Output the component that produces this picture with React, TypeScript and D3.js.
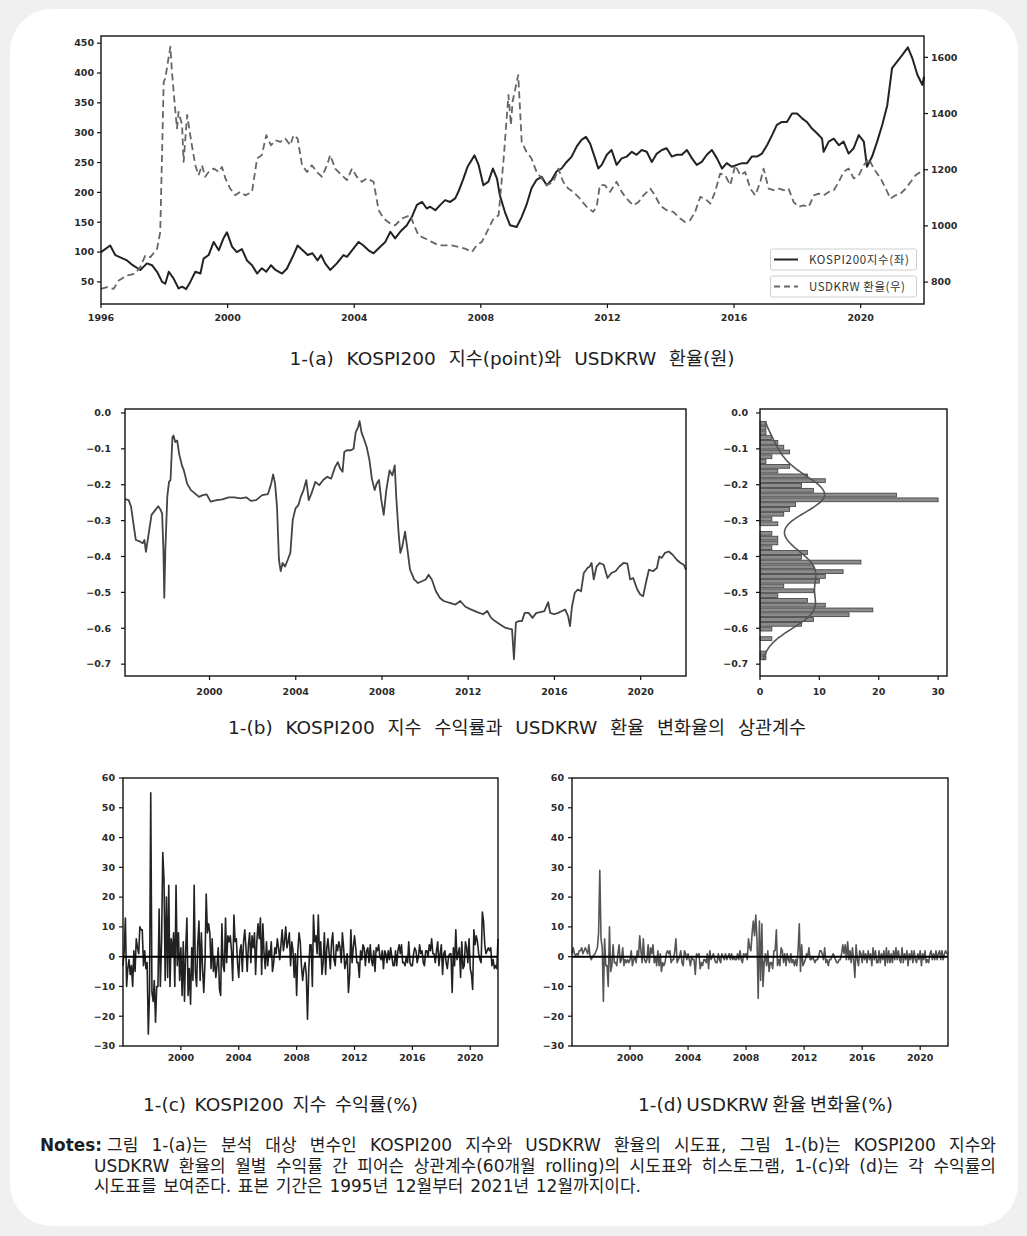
import React, { useLayoutEffect, useRef, useState } from 'react';
import * as d3 from 'd3';

// ---------------- 1-(a) data: [decimal year, value] ----------------
const kospiLevel: [number, number][] = [
  [1996.0, 100], [1996.29, 111], [1996.45, 95], [1996.82, 86], [1997.0, 78], [1997.24, 70], [1997.45, 81],
  [1997.61, 78], [1997.77, 67], [1997.93, 50], [1998.03, 47], [1998.14, 67], [1998.29, 56], [1998.45, 39],
  [1998.56, 42], [1998.69, 38], [1998.82, 50], [1998.98, 67], [1999.14, 64], [1999.24, 89], [1999.4, 95],
  [1999.56, 117], [1999.72, 103], [1999.87, 123], [1999.98, 133], [2000.14, 109], [2000.29, 100], [2000.45, 105],
  [2000.61, 86], [2000.77, 78], [2000.93, 64], [2001.08, 73], [2001.22, 67], [2001.37, 78], [2001.51, 70],
  [2001.72, 64], [2001.87, 72], [2002.08, 95], [2002.21, 111], [2002.37, 103], [2002.53, 95], [2002.68, 98],
  [2002.84, 86], [2002.95, 95], [2003.08, 81], [2003.24, 70], [2003.45, 81], [2003.66, 95], [2003.77, 92],
  [2003.98, 106], [2004.14, 117], [2004.29, 111], [2004.45, 103], [2004.61, 98], [2004.82, 109], [2004.98, 117],
  [2005.14, 134], [2005.29, 123], [2005.45, 134], [2005.66, 145], [2005.82, 159], [2005.98, 179], [2006.14, 184],
  [2006.29, 173], [2006.4, 176], [2006.56, 170], [2006.72, 179], [2006.87, 187], [2007.03, 184], [2007.19, 190],
  [2007.29, 201], [2007.45, 223], [2007.58, 243], [2007.8, 262], [2007.93, 246], [2008.08, 212], [2008.24, 218],
  [2008.38, 240], [2008.51, 223], [2008.6, 195], [2008.76, 167], [2008.92, 145], [2009.13, 142], [2009.29, 159],
  [2009.44, 179], [2009.6, 207], [2009.76, 221], [2009.92, 226], [2010.08, 212], [2010.24, 221], [2010.39, 235],
  [2010.55, 240], [2010.71, 251], [2010.87, 260], [2011.03, 277], [2011.18, 288], [2011.32, 293], [2011.45, 282],
  [2011.61, 257], [2011.71, 240], [2011.82, 246], [2011.98, 263], [2012.13, 271], [2012.29, 246], [2012.45, 257],
  [2012.61, 260], [2012.77, 268], [2012.92, 263], [2013.08, 271], [2013.24, 268], [2013.4, 251], [2013.56, 265],
  [2013.72, 271], [2013.87, 274], [2014.03, 260], [2014.19, 263], [2014.35, 263], [2014.51, 271], [2014.67, 257],
  [2014.82, 246], [2014.98, 251], [2015.14, 263], [2015.3, 271], [2015.46, 257], [2015.62, 240], [2015.77, 249],
  [2015.93, 243], [2016.09, 246], [2016.25, 249], [2016.41, 249], [2016.56, 260], [2016.72, 260], [2016.88, 265],
  [2017.04, 279], [2017.2, 296], [2017.35, 313], [2017.51, 318], [2017.67, 318], [2017.83, 332], [2017.99, 332],
  [2018.15, 324], [2018.3, 318], [2018.46, 307], [2018.62, 299], [2018.78, 290], [2018.83, 268], [2018.99, 285],
  [2019.15, 290], [2019.31, 279], [2019.46, 285], [2019.62, 265], [2019.78, 274], [2019.94, 296], [2020.1, 285],
  [2020.2, 243], [2020.36, 260], [2020.52, 285], [2020.68, 313], [2020.84, 346], [2020.99, 408], [2021.15, 419],
  [2021.31, 430], [2021.49, 443], [2021.63, 425], [2021.79, 397], [2021.95, 380], [2022.0, 394],
];

const usdkrwLevel: [number, number][] = [
  [1996.0, 776], [1996.19, 782], [1996.4, 776], [1996.56, 806], [1996.82, 824], [1997.08, 830], [1997.24, 854],
  [1997.4, 895], [1997.56, 889], [1997.77, 919], [1997.87, 978], [1997.98, 1513], [1998.03, 1525], [1998.19, 1638],
  [1998.24, 1549], [1998.35, 1406], [1998.4, 1347], [1998.45, 1406], [1998.56, 1359], [1998.61, 1228], [1998.72, 1395],
  [1998.77, 1359], [1998.87, 1287], [1998.98, 1216], [1999.08, 1180], [1999.19, 1216], [1999.29, 1175], [1999.4, 1192],
  [1999.56, 1204], [1999.72, 1192], [1999.82, 1210], [1999.93, 1169], [2000.08, 1133], [2000.24, 1109], [2000.4, 1121],
  [2000.56, 1109], [2000.77, 1121], [2000.93, 1240], [2001.08, 1252], [2001.22, 1323], [2001.37, 1287], [2001.51, 1305],
  [2001.66, 1299], [2001.82, 1311], [2001.98, 1287], [2002.08, 1323], [2002.21, 1311], [2002.35, 1216], [2002.51, 1192],
  [2002.66, 1216], [2002.82, 1192], [2002.98, 1175], [2003.14, 1216], [2003.24, 1252], [2003.4, 1204], [2003.61, 1180],
  [2003.77, 1163], [2003.93, 1204], [2004.08, 1175], [2004.24, 1157], [2004.4, 1169], [2004.61, 1157], [2004.77, 1056],
  [2004.93, 1026], [2005.14, 1008], [2005.29, 1002], [2005.5, 1026], [2005.77, 1038], [2005.87, 1008], [2006.03, 966],
  [2006.24, 955], [2006.45, 943], [2006.66, 931], [2006.87, 931], [2007.08, 931], [2007.29, 925], [2007.5, 919],
  [2007.72, 907], [2007.87, 931], [2008.03, 943], [2008.19, 978], [2008.4, 1026], [2008.56, 1038], [2008.72, 1240],
  [2008.87, 1466], [2008.95, 1359], [2009.0, 1442], [2009.18, 1537], [2009.29, 1299], [2009.44, 1264], [2009.6, 1240],
  [2009.76, 1192], [2009.92, 1169], [2010.08, 1145], [2010.29, 1157], [2010.45, 1204], [2010.6, 1157], [2010.76, 1133],
  [2010.92, 1121], [2011.13, 1097], [2011.34, 1068], [2011.55, 1050], [2011.66, 1068], [2011.76, 1145], [2011.92, 1145],
  [2012.08, 1121], [2012.29, 1157], [2012.45, 1121], [2012.61, 1097], [2012.82, 1073], [2012.98, 1085], [2013.14, 1109],
  [2013.35, 1133], [2013.5, 1109], [2013.66, 1073], [2013.87, 1056], [2014.08, 1050], [2014.3, 1026], [2014.45, 1014],
  [2014.61, 1020], [2014.77, 1050], [2014.93, 1103], [2015.09, 1097], [2015.25, 1079], [2015.4, 1121], [2015.56, 1186],
  [2015.72, 1180], [2015.88, 1145], [2016.04, 1216], [2016.2, 1180], [2016.35, 1192], [2016.51, 1133], [2016.67, 1109],
  [2016.83, 1157], [2016.93, 1204], [2017.09, 1133], [2017.25, 1127], [2017.41, 1133], [2017.57, 1127], [2017.72, 1133],
  [2017.88, 1085], [2018.04, 1068], [2018.2, 1073], [2018.36, 1068], [2018.52, 1109], [2018.67, 1115], [2018.83, 1109],
  [2018.99, 1121], [2019.15, 1127], [2019.31, 1157], [2019.46, 1192], [2019.62, 1204], [2019.78, 1169], [2019.94, 1180],
  [2020.1, 1216], [2020.26, 1240], [2020.41, 1204], [2020.63, 1169], [2020.79, 1133], [2020.94, 1097], [2021.1, 1109],
  [2021.26, 1115], [2021.42, 1133], [2021.58, 1157], [2021.73, 1180], [2021.89, 1192], [2022.0, 1198],
];

const leftTicksA = [50, 100, 150, 200, 250, 300, 350, 400, 450];
const rightTicksA = [800, 1000, 1200, 1400, 1600];
const yearTicksA = [1996, 2000, 2004, 2008, 2012, 2016, 2020];
const legendLabelsA = ['KOSPI200지수(좌)', 'USDKRW 환율(우)'];

// ---------------- 1-(b) data ----------------
const rollingCorr: [number, number][] = [
  [1996.08, -0.24], [1996.25, -0.243], [1996.36, -0.261], [1996.5, -0.321], [1996.58, -0.354], [1996.76, -0.358],
  [1996.9, -0.363], [1996.98, -0.354], [1997.05, -0.387], [1997.18, -0.335], [1997.31, -0.284], [1997.49, -0.27],
  [1997.62, -0.26], [1997.73, -0.27], [1997.8, -0.28], [1997.86, -0.381], [1997.9, -0.515], [1997.95, -0.381],
  [1998.04, -0.234], [1998.12, -0.192], [1998.19, -0.187], [1998.28, -0.067], [1998.33, -0.063], [1998.41, -0.081],
  [1998.5, -0.077], [1998.59, -0.114], [1998.72, -0.146], [1998.81, -0.16], [1998.96, -0.197], [1999.14, -0.215],
  [1999.32, -0.224], [1999.51, -0.234], [1999.69, -0.229], [1999.87, -0.227], [2000.05, -0.247], [2000.33, -0.243],
  [2000.6, -0.241], [2000.88, -0.235], [2001.15, -0.235], [2001.43, -0.238], [2001.7, -0.235], [2001.92, -0.245],
  [2002.16, -0.243], [2002.44, -0.229], [2002.71, -0.226], [2002.86, -0.197], [2002.95, -0.171], [2003.04, -0.197],
  [2003.13, -0.261], [2003.22, -0.409], [2003.3, -0.441], [2003.39, -0.418], [2003.5, -0.428], [2003.63, -0.409],
  [2003.75, -0.39], [2003.86, -0.298], [2003.99, -0.266], [2004.12, -0.257], [2004.23, -0.234], [2004.36, -0.215],
  [2004.49, -0.187], [2004.6, -0.243], [2004.73, -0.224], [2004.91, -0.192], [2005.09, -0.201], [2005.27, -0.187],
  [2005.46, -0.178], [2005.64, -0.183], [2005.82, -0.151], [2005.95, -0.137], [2006.06, -0.155], [2006.17, -0.164],
  [2006.25, -0.109], [2006.37, -0.104], [2006.56, -0.104], [2006.68, -0.1], [2006.78, -0.054], [2006.89, -0.04],
  [2006.96, -0.023], [2007.05, -0.054], [2007.16, -0.072], [2007.29, -0.095], [2007.42, -0.132], [2007.53, -0.183],
  [2007.66, -0.215], [2007.75, -0.197], [2007.86, -0.187], [2007.97, -0.243], [2008.08, -0.284], [2008.2, -0.215],
  [2008.35, -0.16], [2008.48, -0.174], [2008.59, -0.146], [2008.66, -0.234], [2008.77, -0.335], [2008.85, -0.39],
  [2008.94, -0.372], [2009.07, -0.331], [2009.18, -0.381], [2009.3, -0.437], [2009.49, -0.464], [2009.67, -0.474],
  [2009.85, -0.469], [2010.03, -0.464], [2010.16, -0.451], [2010.31, -0.464], [2010.5, -0.497], [2010.68, -0.515],
  [2010.86, -0.524], [2011.14, -0.529], [2011.41, -0.534], [2011.63, -0.524], [2011.87, -0.54], [2012.14, -0.548],
  [2012.42, -0.555], [2012.69, -0.561], [2012.88, -0.552], [2013.06, -0.571], [2013.24, -0.58], [2013.46, -0.589],
  [2013.7, -0.598], [2013.88, -0.601], [2014.03, -0.603], [2014.12, -0.686], [2014.21, -0.584], [2014.34, -0.58],
  [2014.49, -0.58], [2014.62, -0.557], [2014.8, -0.557], [2014.98, -0.571], [2015.16, -0.557], [2015.35, -0.555],
  [2015.53, -0.552], [2015.71, -0.527], [2015.8, -0.557], [2015.99, -0.561], [2016.17, -0.557], [2016.35, -0.552],
  [2016.5, -0.548], [2016.63, -0.566], [2016.72, -0.594], [2016.81, -0.54], [2016.94, -0.501], [2017.08, -0.492],
  [2017.23, -0.497], [2017.36, -0.446], [2017.53, -0.432], [2017.63, -0.428], [2017.72, -0.418], [2017.82, -0.464],
  [2017.95, -0.428], [2018.1, -0.418], [2018.28, -0.423], [2018.46, -0.46], [2018.64, -0.446], [2018.83, -0.441],
  [2019.01, -0.428], [2019.2, -0.418], [2019.38, -0.42], [2019.51, -0.464], [2019.65, -0.46], [2019.84, -0.492],
  [2019.98, -0.506], [2020.11, -0.511], [2020.24, -0.474], [2020.38, -0.437], [2020.57, -0.441], [2020.75, -0.432],
  [2020.86, -0.4], [2020.97, -0.404], [2021.12, -0.39], [2021.3, -0.386], [2021.48, -0.395], [2021.67, -0.409],
  [2021.85, -0.418], [2022.0, -0.423], [2022.1, -0.437],
];

// histogram of the rolling correlation: 50 bins, top (highest) to bottom (lowest)
const histRange = [-0.689, -0.022];
const histCounts = [
  1, 1, 1, 2, 3, 4, 5, 2, 1, 5, 3, 8, 11, 7, 9, 23, 30, 6, 5, 4,
  2, 3, 0, 2, 3, 3, 2, 8, 7, 17, 9, 14, 11, 10, 4, 9, 3, 8, 11, 19,
  15, 9, 7, 2, 0, 2, 0, 0, 1, 1,
];
const corrTicks = [0, -0.1, -0.2, -0.3, -0.4, -0.5, -0.6, -0.7];
const countTicks = [0, 10, 20, 30];
const yearTicks = [2000, 2004, 2008, 2012, 2016, 2020];

// ---------------- 1-(c), 1-(d) monthly data from 1996-01 ----------------
const returnStartYear = 1996;
const kospiReturns = [
  -3, 2, 13, -10, -4, -1, -6, -3, -10, 2, -5, 6,
  3, 1, 10, 9, 9, -3, 2, -4, -2, -26, -12, 55,
  -12, -15, -8, -22, -10, -10, 16, -10, 5, 35, 26, -8,
  20, -7, 24, -10, 6, 0, 8, -10, 24, -3, 8, -8,
  3, -13, 5, -15, 2, 13, -13, -4, -16, 3, -8, 24,
  -5, -10, 4, 12, -8, 8, -4, -12, -2, 21, 8, 11,
  8, -4, 6, -5, 0, -7, -3, 3, -11, -13, 11, -3,
  -5, 13, -2, 7, 5, 7, 2, -8, 14, 5, 6, -2,
  -7, 2, 4, -5, 5, 9, 3, -5, 4, 8, -2, 7,
  3, 8, -6, 5, 11, 6, 13, -6, 11, 1, -4, 5,
  -3, 2, 0, 5, -5, -2, 3, 1, 6, 3, -1, 4,
  9, 2, 5, 10, 3, 5, 8, -3, 5, 2, -7, 1,
  -13, 2, 8, 5, -3, -8, -4, -2, -6, -21, -5, 4,
  4, -10, 14, 5, 7, 1, 14, 0, 5, -6, -2, 8,
  -6, 3, 6, 1, -4, 5, 8, -1, -3, 4, 2, 5,
  3, -2, 8, 3, -4, -2, 1, -12, -6, 9, -2, 3,
  7, 3, -2, -2, -7, 2, -1, 4, 3, -3, 2, 3,
  -2, 4, -1, -3, 2, -5, 3, 2, 4, 0, -1, 2,
  -4, 2, 1, -2, 2, -1, 3, 0, -3, -3, 2, -3,
  2, 4, 1, 4, -2, -2, -3, 0, -2, 5, -2, -3,
  -3, 1, 3, 2, -2, 0, 4, 1, 2, -2, -3, 2,
  2, 0, 4, 2, 6, 1, 1, -2, 2, 5, -3, 1,
  4, -6, 1, 2, -2, -4, 0, 1, 1, -12, 3, -3,
  9, -1, 1, 3, -7, 5, -4, -3, 5, 3, -2, 6,
  -4, -6, -11, 9, 4, 7, 5, 1, -1, -2, 15, 12,
  4, 1, 2, 3, 2, 3, -3, -1, -4, -3, -4, 6,
];
const usdkrwChanges = [
  1, 3, 1, 0.5, 1, 0.5, 2, 2, 3, 1, 2, 3,
  2, 1, 4, 0, -1, 0, 0.5, 1, 2, 3, 8, 29,
  6, 3, -15, 6, -3, -3, -10, 10, -5, -3, 4, -2,
  -2, -3, 1, 4, -2, -1, 3, -3, -1, -2, -1, -2,
  -1, 2, -3, -1, 0, -2, 2, 0, 7, 2, -2, 6,
  -1, -2, -1, 4, -2, 3, 1, 4, -2, 0, -3, 2,
  -3, 1, -5, -2, -3, -2, 1, 2, 1, 2, -2, -1,
  -1, 2, 6, -2, -1, 0, 2, -2, -3, 2, 1, -1,
  1, -1, -3, 0, -1, -1, -6, 1, 0, 1, -4, -2,
  -3, -1, -1, -2, 1, -4, 2, -1, 0, 1, -1, -2,
  -2, 1, -1, -2, 1, 0, -1, 1, -1, 0, 1, -1,
  1, -1, 0, -1, -1, 1, -1, 2, -1, -2, 1, 0.5,
  1, -1, 6, 3, 2, 8, 12, 7, 14, 6, -14, 12,
  -8, 11, -10, -2, 1, -3, 2, -5, -2, -2, -4, 2,
  2, 9, -3, -1, -3, 3, 2, -2, 1, -3, 1, -1,
  -2, 1, -2, -1, -3, -1, -3, 2, 11, -5, 4, -3,
  -2, -1, 1, 0, 3, -1, -1, 0, -1, -2, -1, -1,
  0, 2, 2, 1, -1, 3, -2, -1, -3, -1, -1, 0,
  1, 0, -1, -2, -2, -1, -1, 1, 4, 1, 4, -1,
  5, -1, 2, -2, 3, -1, -7, 4, -1, -3, 2, 1,
  -2, 2, -1, 1, -2, 2, -1, 1, -3, 3, -1, 2,
  -2, -2, 2, -2, 1, -1, 2, -3, 3, -2, 2, -2,
  1, -2, 2, -1, 3, -1, 2, -1, -2, 3, -2, 1,
  -1, 2, -3, 1, -1, 2, -2, 2, -1, -2, 1, -1,
  2, -3, 1, -1, 2, -2, -1, -2, 1, 2, -1, 1,
  -1, 2, -1, 1, 2, -1, 2, -1, 1, 2, 1, 1,
];
const pctTicks = [-30, -20, -10, 0, 10, 20, 30, 40, 50, 60];

const captions = [
  '1-(a) KOSPI200 지수(point)와 USDKRW 환율(원)',
  '1-(b) KOSPI200 지수 수익률과 USDKRW 환율 변화율의 상관계수',
  '1-(c) KOSPI200 지수 수익률(%)',
  '1-(d) USDKRW 환율 변화율(%)',
];
const notesLabel = 'Notes:';
const notesLines = [
  '그림 1-(a)는 분석 대상 변수인 KOSPI200 지수와 USDKRW 환율의 시도표, 그림 1-(b)는 KOSPI200 지수와',
  'USDKRW 환율의 월별 수익률 간 피어슨 상관계수(60개월 rolling)의 시도표와 히스토그램, 1-(c)와 (d)는 각 수익률의',
  '시도표를 보여준다. 표본 기간은 1995년 12월부터 2021년 12월까지이다.',
];

// ---------------- helpers ----------------
const decToDate = (y: number) => {
  const yr = Math.floor(y);
  const s = new Date(yr, 0, 1).getTime();
  const e = new Date(yr + 1, 0, 1).getTime();
  return new Date(s + (y - yr) * (e - s));
};
const fmtNum = (v: number, digits = 0) => {
  const s = Math.abs(v).toFixed(digits);
  return v < 0 ? '\u2212' + s : s;
};
const TICK_FONT = 'DejaVu Sans';
const KFONT = "'Noto Sans CJK KR', 'Noto Sans', sans-serif";
const TEXT_FONT = "'DejaVu Sans', 'Noto Sans CJK KR', sans-serif";
const tickStyle = { fontFamily: TICK_FONT, fontSize: 9.5, fontWeight: 700, fill: '#2a2a2a' } as const;

// text whose word gaps are widened so that it spans a given width
function FitText({ x, y, width, anchor = 'start', style, text }: any) {
  const ref = useRef<SVGTextElement>(null);
  const [ws, setWs] = useState(0);
  useLayoutEffect(() => {
    const el = ref.current;
    if (!el) return;
    el.style.wordSpacing = '0px';
    const nat = el.getComputedTextLength();
    const spaces = (text.match(/ /g) || []).length;
    setWs(spaces ? (width - nat) / spaces : 0);
  }, [width, text]);
  return (
    <text ref={ref} x={x} y={y} textAnchor={anchor} style={{ ...style, wordSpacing: ws + 'px' }}>
      {text}
    </text>
  );
}

type Box = { x0: number; x1: number; y0: number; y1: number };

function Frame({ b }: { b: Box }) {
  return <rect x={b.x0} y={b.y0} width={b.x1 - b.x0} height={b.y1 - b.y0} fill="none" stroke="#111" strokeWidth={1.4} />;
}

function LeftAxis({ b, scale, ticks, fmt, gap = 8 }: any) {
  return (
    <g>
      {ticks.map((t: number) => (
        <g key={t}>
          <line x1={b.x0 - 4} x2={b.x0} y1={scale(t)} y2={scale(t)} stroke="#111" strokeWidth={1.2} />
          <text x={b.x0 - gap} y={scale(t)} dy="0.35em" textAnchor="end" style={tickStyle}>{fmt(t)}</text>
        </g>
      ))}
    </g>
  );
}
function RightAxis({ b, scale, ticks, fmt, gap = 6 }: any) {
  return (
    <g>
      {ticks.map((t: number) => (
        <g key={t}>
          <line x1={b.x1} x2={b.x1 + 4} y1={scale(t)} y2={scale(t)} stroke="#111" strokeWidth={1.2} />
          <text x={b.x1 + gap} y={scale(t)} dy="0.35em" textAnchor="start" style={tickStyle}>{fmt(t)}</text>
        </g>
      ))}
    </g>
  );
}
function BottomAxis({ b, scale, ticks, fmt, off = 17 }: any) {
  return (
    <g>
      {ticks.map((t: any, i: number) => (
        <g key={i}>
          <line x1={scale(t)} x2={scale(t)} y1={b.y1} y2={b.y1 + 4} stroke="#111" strokeWidth={1.2} />
          <text x={scale(t)} y={b.y1 + off} textAnchor="middle" style={tickStyle}>{fmt(t)}</text>
        </g>
      ))}
    </g>
  );
}

// ---------------- charts ----------------
function ChartA() {
  const b: Box = { x0: 101, x1: 924, y0: 36, y1: 304 };
  const x = d3.scaleTime().domain([decToDate(1996), decToDate(2022)]).range([b.x0, b.x1]);
  const yl = d3.scaleLinear().domain([13, 462]).range([b.y1, b.y0]);
  const yr = d3.scaleLinear().domain([722, 1676]).range([b.y1, b.y0]);
  const lineL = d3.line<[number, number]>().x((d) => x(decToDate(d[0]))).y((d) => yl(d[1]));
  const lineR = d3.line<[number, number]>().x((d) => x(decToDate(d[0]))).y((d) => yr(d[1]));
  const lg = [
    { y0: 249, y1: 270, dash: undefined, color: '#222', w: 2 },
    { y0: 276, y1: 297, dash: '6,4', color: '#666', w: 1.8 },
  ];
  return (
    <g>
      <path d={lineL(kospiLevel) || ''} fill="none" stroke="#222" strokeWidth={2} strokeLinejoin="round" />
      <path d={lineR(usdkrwLevel) || ''} fill="none" stroke="#666" strokeWidth={1.8} strokeDasharray="7,4" strokeLinejoin="round" />
      {lg.map((l, i) => (
        <g key={i}>
          <rect x={770.5} y={l.y0} width={146} height={l.y1 - l.y0} rx={2} fill="#fff" fillOpacity={0.85} stroke="#cfcfcf" strokeWidth={1} />
          <line x1={774} x2={798} y1={(l.y0 + l.y1) / 2} y2={(l.y0 + l.y1) / 2} stroke={l.color} strokeWidth={l.w} strokeDasharray={l.dash} />
          <text x={809} y={(l.y0 + l.y1) / 2} dy="0.35em" textLength={i === 0 ? 100 : 96} lengthAdjust="spacing"
            style={{ fontFamily: KFONT, fontSize: 11.5, fill: '#333' }}>{legendLabelsA[i]}</text>
        </g>
      ))}
      <Frame b={b} />
      <LeftAxis b={b} scale={yl} ticks={leftTicksA} fmt={(v: number) => fmtNum(v)} gap={7} />
      <RightAxis b={b} scale={yr} ticks={rightTicksA} fmt={(v: number) => fmtNum(v)} gap={7} />
      <BottomAxis b={b} scale={(t: number) => x(decToDate(t))} ticks={yearTicksA} fmt={(t: number) => String(t)} off={17} />
    </g>
  );
}

function ChartB() {
  const b: Box = { x0: 125, x1: 686, y0: 409, y1: 676 };
  const ext = d3.extent(rollingCorr, (d) => d[0]) as [number, number];
  const x = d3.scaleTime().domain([decToDate(ext[0]), decToDate(ext[1])]).range([b.x0, b.x1]);
  const y = d3.scaleLinear().domain([-0.733, 0.011]).range([b.y1, b.y0]);
  const line = d3.line<[number, number]>().x((d) => x(decToDate(d[0]))).y((d) => y(d[1]));

  const h: Box = { x0: 760, x1: 947, y0: 409, y1: 676 };
  const hx = d3.scaleLinear().domain([0, 31.5]).range([h.x0, h.x1]);
  const nb = histCounts.length;
  const bw = (histRange[1] - histRange[0]) / nb;
  const bins = histCounts.map((c, i) => ({ hi: histRange[1] - i * bw, lo: histRange[1] - (i + 1) * bw, c }));
  // gaussian KDE from the binned counts, in count units
  const hbw = 0.045;
  const kde = d3.range(histRange[0], histRange[1] + 1e-9, 0.002).map((v) => {
    let s = 0;
    bins.forEach((bn) => {
      const u = (v - (bn.hi + bn.lo) / 2) / hbw;
      s += bn.c * Math.exp(-0.5 * u * u);
    });
    return [v, (s * bw) / (hbw * Math.sqrt(2 * Math.PI))] as [number, number];
  });
  const kdeLine = d3.line<[number, number]>().x((d) => hx(d[1])).y((d) => y(d[0])).curve(d3.curveBasis);
  const barPx = y(bins[0].lo) - y(bins[0].hi);
  return (
    <g>
      <path d={line(rollingCorr) || ''} fill="none" stroke="#444" strokeWidth={1.8} strokeLinejoin="round" />
      <Frame b={b} />
      <LeftAxis b={b} scale={y} ticks={corrTicks} fmt={(v: number) => fmtNum(v, 1)} gap={14} />
      <BottomAxis b={b} scale={(t: number) => x(decToDate(t))} ticks={yearTicks} fmt={(t: number) => String(t)} off={19} />

      {bins.map((bn, i) =>
        bn.c > 0 ? (
          <rect key={i} x={hx(0)} y={y(bn.hi) + barPx * 0.1} width={hx(bn.c) - hx(0)} height={barPx * 0.8}
            fill="#8c8c8c" stroke="#3c3c3c" strokeWidth={0.8} />
        ) : null,
      )}
      <path d={kdeLine(kde) || ''} fill="none" stroke="#555" strokeWidth={1.6} />
      <Frame b={h} />
      <LeftAxis b={h} scale={y} ticks={corrTicks} fmt={(v: number) => fmtNum(v, 1)} gap={12} />
      <BottomAxis b={h} scale={hx} ticks={countTicks} fmt={(t: number) => String(t)} off={19} />
    </g>
  );
}

function ReturnChart({ b, data, color }: { b: Box; data: number[]; color: string }) {
  const pts = data.map((v, i) => [new Date(returnStartYear, i, 1), v] as [Date, number]);
  const x = d3.scaleTime().domain(d3.extent(pts, (d) => d[0]) as [Date, Date]).range([b.x0, b.x1]);
  const y = d3.scaleLinear().domain([-30, 60]).range([b.y1, b.y0]);
  const line = d3.line<[Date, number]>().x((d) => x(d[0])).y((d) => y(d[1]));
  return (
    <g>
      <path d={line(pts) || ''} fill="none" stroke={color} strokeWidth={1.6} strokeLinejoin="round" />
      <line x1={b.x0} x2={b.x1} y1={y(0)} y2={y(0)} stroke="#000" strokeWidth={2} />
      <Frame b={b} />
      <LeftAxis b={b} scale={y} ticks={pctTicks} fmt={(v: number) => fmtNum(v)} gap={8} />
      <BottomAxis b={b} scale={(t: number) => x(new Date(t, 0, 1))} ticks={yearTicks} fmt={(t: number) => String(t)} off={15} />
    </g>
  );
}

export default function App() {
  const capStyle = { fontFamily: TEXT_FONT, fontSize: 18.5, fill: '#1e1e1e' } as const;
  const noteStyle = { fontFamily: TEXT_FONT, fontSize: 17, fill: '#1e1e1e' } as const;
  return (
    <svg width={1027} height={1236} viewBox="0 0 1027 1236" style={{ position: 'absolute', left: 0, top: 0, background: '#fff' }}>
      <rect x={0} y={0} width={1027} height={1236} fill="#f0f0f0" />
      <rect x={10} y={9} width={1008} height={1217} rx={42} fill="#fff" />
      <ChartA />
      <FitText x={512} y={365} width={445} anchor="middle" style={capStyle} text={captions[0]} />
      <ChartB />
      <FitText x={517} y={734} width={578} anchor="middle" style={capStyle} text={captions[1]} />
      <ReturnChart b={{ x0: 123, x1: 498, y0: 778, y1: 1046 }} data={kospiReturns} color="#222" />
      <ReturnChart b={{ x0: 572, x1: 948, y0: 778, y1: 1046 }} data={usdkrwChanges} color="#555" />
      <FitText x={280.5} y={1111} width={275} anchor="middle" style={capStyle} text={captions[2]} />
      <FitText x={765.5} y={1111} width={255} anchor="middle" style={capStyle} text={captions[3]} />
      <text x={40} y={1151} textLength={62} lengthAdjust="spacingAndGlyphs" style={{ ...noteStyle, fontWeight: 700 }}>{notesLabel}</text>
      <FitText x={107} y={1151} width={889} style={noteStyle} text={notesLines[0]} />
      <FitText x={94} y={1172} width={902} style={noteStyle} text={notesLines[1]} />
      <FitText x={94} y={1192} width={547} style={noteStyle} text={notesLines[2]} />
    </svg>
  );
}
